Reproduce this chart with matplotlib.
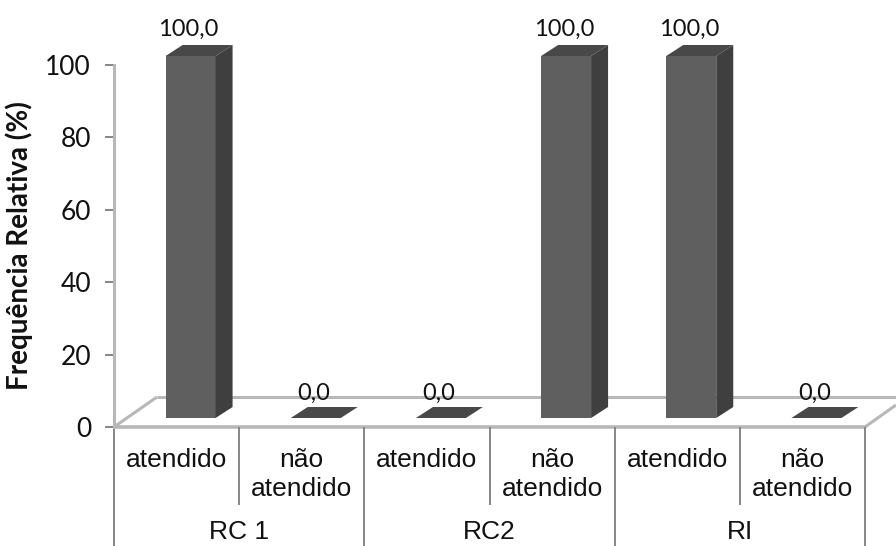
import matplotlib
matplotlib.use('Agg')
import matplotlib.pyplot as plt
from matplotlib.patches import Polygon

# data
groups = ['RC 1', 'RC2', 'RI']
categories = ['atendido', 'não\natendido', 'atendido', 'não\natendido', 'atendido', 'não\natendido']
values = [100.0, 0.0, 0.0, 100.0, 100.0, 0.0]
y_ticks = [0, 20, 40, 60, 80, 100]

W, H = 896, 546
LEFT, RIGHT, BOTTOM, TOP = 114, 865, 427, 65
FRONT = '#5f5f5f'
SIDE = '#3f3f3f'
ROOF = '#484848'
GRID = '#b8b8b8'
TICK = '#868686'

fig = plt.figure(figsize=(W / 100, H / 100), dpi=100)
ax = fig.add_axes([LEFT / W, (H - BOTTOM) / H, (RIGHT - LEFT) / W, (BOTTOM - TOP) / H])
ax.set_xlim(0, len(values))
ax.set_ylim(0, 100)

# size of one pixel in data units
px = len(values) / (RIGHT - LEFT)
py = 100 / (BOTTOM - TOP)


def draw_bar(ax, i, value):
    """Draw one 3D looking bar standing on the floor."""
    x0 = i + 0.5 - 25 * px + 14 * px
    x1 = x0 + 50 * px
    y0 = 9 * py
    y1 = y0 + value
    dx = 17 * px
    dy = 11 * py
    if value > 0:
        ax.add_patch(Polygon([(x0, y0), (x1, y0), (x1, y1), (x0, y1)], fc=FRONT, ec='none', zorder=3, clip_on=False))
        ax.add_patch(Polygon([(x1, y0), (x1 + dx, y0 + dy), (x1 + dx, y1 + dy), (x1, y1)], fc=SIDE, ec='none', zorder=3, clip_on=False))
    ax.add_patch(Polygon([(x0, y1), (x1, y1), (x1 + dx, y1 + dy), (x0 + dx, y1 + dy)], fc=ROOF, ec='none', zorder=3, clip_on=False))
    lift = 16 * py if value > 0 else 14 * py
    ax.text((x0 + x1) / 2 - 2 * px, y1 + lift, f'{value:.1f}'.replace('.', ','),
            ha='center', va='bottom', fontsize=17, family='Lato', color='#111111', zorder=5, clip_on=False)


# floor and walls
floor_kw = dict(color=GRID, lw=2.2, clip_on=False, zorder=1, solid_capstyle='butt')
ax.plot([0, 43 * px], [0, 30 * py], **floor_kw)
ax.plot([43 * px, (W - LEFT) * px], [30 * py, 30 * py], **floor_kw)
ax.plot([len(values), len(values) + 31 * px], [0, 22 * py], **floor_kw)
ax.plot([0, len(values)], [0, 0], color=GRID, lw=2.6, clip_on=False, zorder=2, solid_capstyle='butt')

for i, v in enumerate(values):
    draw_bar(ax, i, v)

# two level category axis
for i in range(len(values) + 1):
    bottom = -119 * py if i % 2 == 0 else -78 * py
    ax.plot([i, i], [0, bottom], color=TICK, lw=1.4, clip_on=False, zorder=2, solid_capstyle='butt')
for i, c in enumerate(categories):
    ax.text(i + 0.5, -21 * py, c, ha='center', va='top', fontsize=19, family='Liberation Sans',
            linespacing=1.25, color='#111111', clip_on=False)
for i, g in enumerate(groups):
    ax.text(2 * i + 1, -112 * py, g, ha='center', va='baseline', fontsize=19, family='Liberation Sans',
            color='#111111', clip_on=False)

for s in ['top', 'right', 'bottom']:
    ax.spines[s].set_visible(False)
ax.spines['left'].set_color(GRID)
ax.spines['left'].set_linewidth(2.2)
ax.set_xticks([])
ax.set_yticks(y_ticks)
ax.tick_params(axis='y', length=6.5, width=1.4, color=TICK, pad=10)
for label in ax.get_yticklabels():
    label.set_fontsize(19)
    label.set_family('Lato')
    label.set_color('#111111')
ax.patch.set_alpha(0)

fig.text(19 / W, (H - 246) / H, 'Frequência Relativa (%)', rotation=90, ha='center', va='center',
         fontsize=20, fontweight='bold', family='Lato', color='#111111')

fig.savefig('out.png', dpi=100)
